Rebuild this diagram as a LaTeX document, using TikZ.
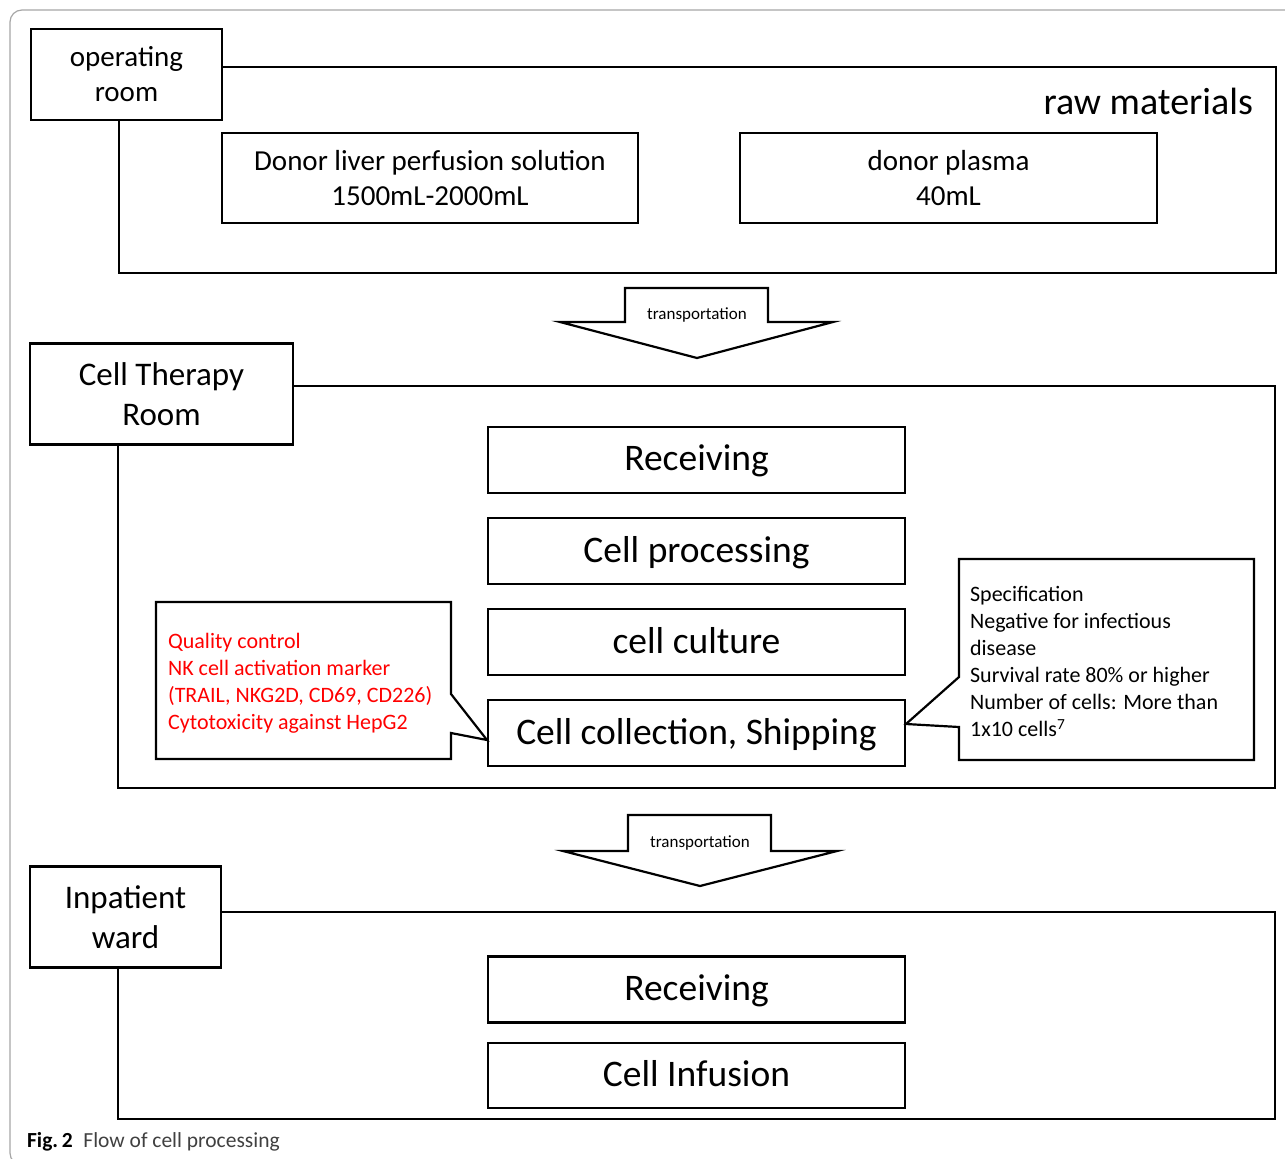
\documentclass[tikz,border=0pt]{standalone}
\usepackage{fontspec}
\setmainfont{Carlito}
\usepackage{xcolor}
\usepackage{tikz}
\usetikzlibrary{positioning}

\begin{document}
\begin{tikzpicture}[
    x=1pt, y=-1pt,
    line width=2.2pt, draw=black,
    frame/.style={draw, rectangle, inner sep=0pt},
    room/.style={draw, fill=white, rectangle, align=center, inner sep=0pt},
    stepbox/.style={draw, rectangle, inner sep=0pt, minimum width=417pt, minimum height=66pt, text depth=4pt, font=\fontsize{37.5}{44}\selectfont},
    note/.style={align=left, inner sep=0pt, anchor=west, font=\fontsize{22}{27}\selectfont}
]
\useasboundingbox (0,0) rectangle (1285,1159);
\draw[gray!70, line width=1.2pt, rounded corners=12pt] (10,10) rectangle (1310,1165);

% Section 1: operating room
\node[frame, minimum width=1157pt, minimum height=206pt] (raw) at (697.5,170) {};
\node[room, minimum width=191pt, minimum height=91pt, font=\fontsize{29}{35}\selectfont] (oproom) at (126.5,74.5) {operating\\room};
\node[anchor=east, inner sep=0pt, font=\fontsize{38}{44}\selectfont] (rawlabel) at (1254,101) {raw materials};
\node[frame, align=center, minimum width=416pt, minimum height=90pt, font=\fontsize{29}{35}\selectfont] (perfusion) at (430,178) {Donor liver perfusion solution\\1500mL-2000mL};
\node[frame, align=center, minimum width=417pt, minimum height=90pt, font=\fontsize{29}{35}\selectfont] (plasma) at (948.5,178) {donor plasma\\40mL};

% Transportation 1
\draw[fill=white, line join=miter] (625,288) -- (768,288) -- (768,322) -- (833,322) -- (697,358) -- (560,322) -- (625,322) -- cycle;
\node[font=\fontsize{17}{20}\selectfont] (trans1) at (697,315) {transportation};

% Section 2: cell therapy room
\node[frame, minimum width=1157pt, minimum height=402pt] (ctr) at (696.5,587) {};
\node[room, minimum width=263pt, minimum height=101pt, font=\fontsize{33}{40}\selectfont] (ctroom) at (161.5,394) {Cell Therapy\\Room};
\node[stepbox] (recv1) at (696.5,460) {Receiving};
\node[stepbox] (proc) at (696.5,551) {Cell processing};
\node[stepbox] (culture) at (696.5,642) {cell culture};
\node[stepbox] (collect) at (696.5,733) {Cell collection, Shipping};

% Callouts
\draw[line join=miter] (156,602) -- (451,602) -- (451,694) -- (487,740) -- (451,733) -- (451,759) -- (156,759) -- cycle;
\node[note, text=red] (qc) at (167,683) {Quality control\\NK cell activation marker\\(TRAIL, NKG2D, CD69, CD226)\\Cytotoxicity against HepG2};
\draw[line join=miter] (959,559) -- (1254,559) -- (1254,760) -- (959,760) -- (959,727) -- (906,724) -- (959,677) -- cycle;
\node[note] (spec) at (969,661.5) {Specification\\Negative for infectious\\disease\\Survival rate 80\% or higher\\Number of cells: More than\\1x10 cells\textsuperscript{7}};

% Transportation 2
\draw[fill=white, line join=miter] (628,815) -- (771,815) -- (771,851) -- (837,851) -- (700,886) -- (563,851) -- (628,851) -- cycle;
\node[font=\fontsize{17}{20}\selectfont] (trans2) at (700,843) {transportation};

% Section 3: inpatient ward
\node[frame, minimum width=1157pt, minimum height=207pt] (ward) at (696.5,1015.5) {};
\node[room, minimum width=191pt, minimum height=101pt, font=\fontsize{33}{40}\selectfont] (wardlabel) at (125.5,917) {Inpatient\\ward};
\node[stepbox] (recv2) at (696.5,989.5) {Receiving};
\node[stepbox, minimum height=65pt] (infusion) at (696.5,1075.5) {Cell Infusion};

% Caption
\node[anchor=west, inner sep=0pt, font=\fontsize{21.5}{25}\selectfont] (caption) at (26,1142) {\textbf{Fig.\,2}\enspace\textcolor{black!75}{Flow of cell processing}};

\end{tikzpicture}
\end{document}
